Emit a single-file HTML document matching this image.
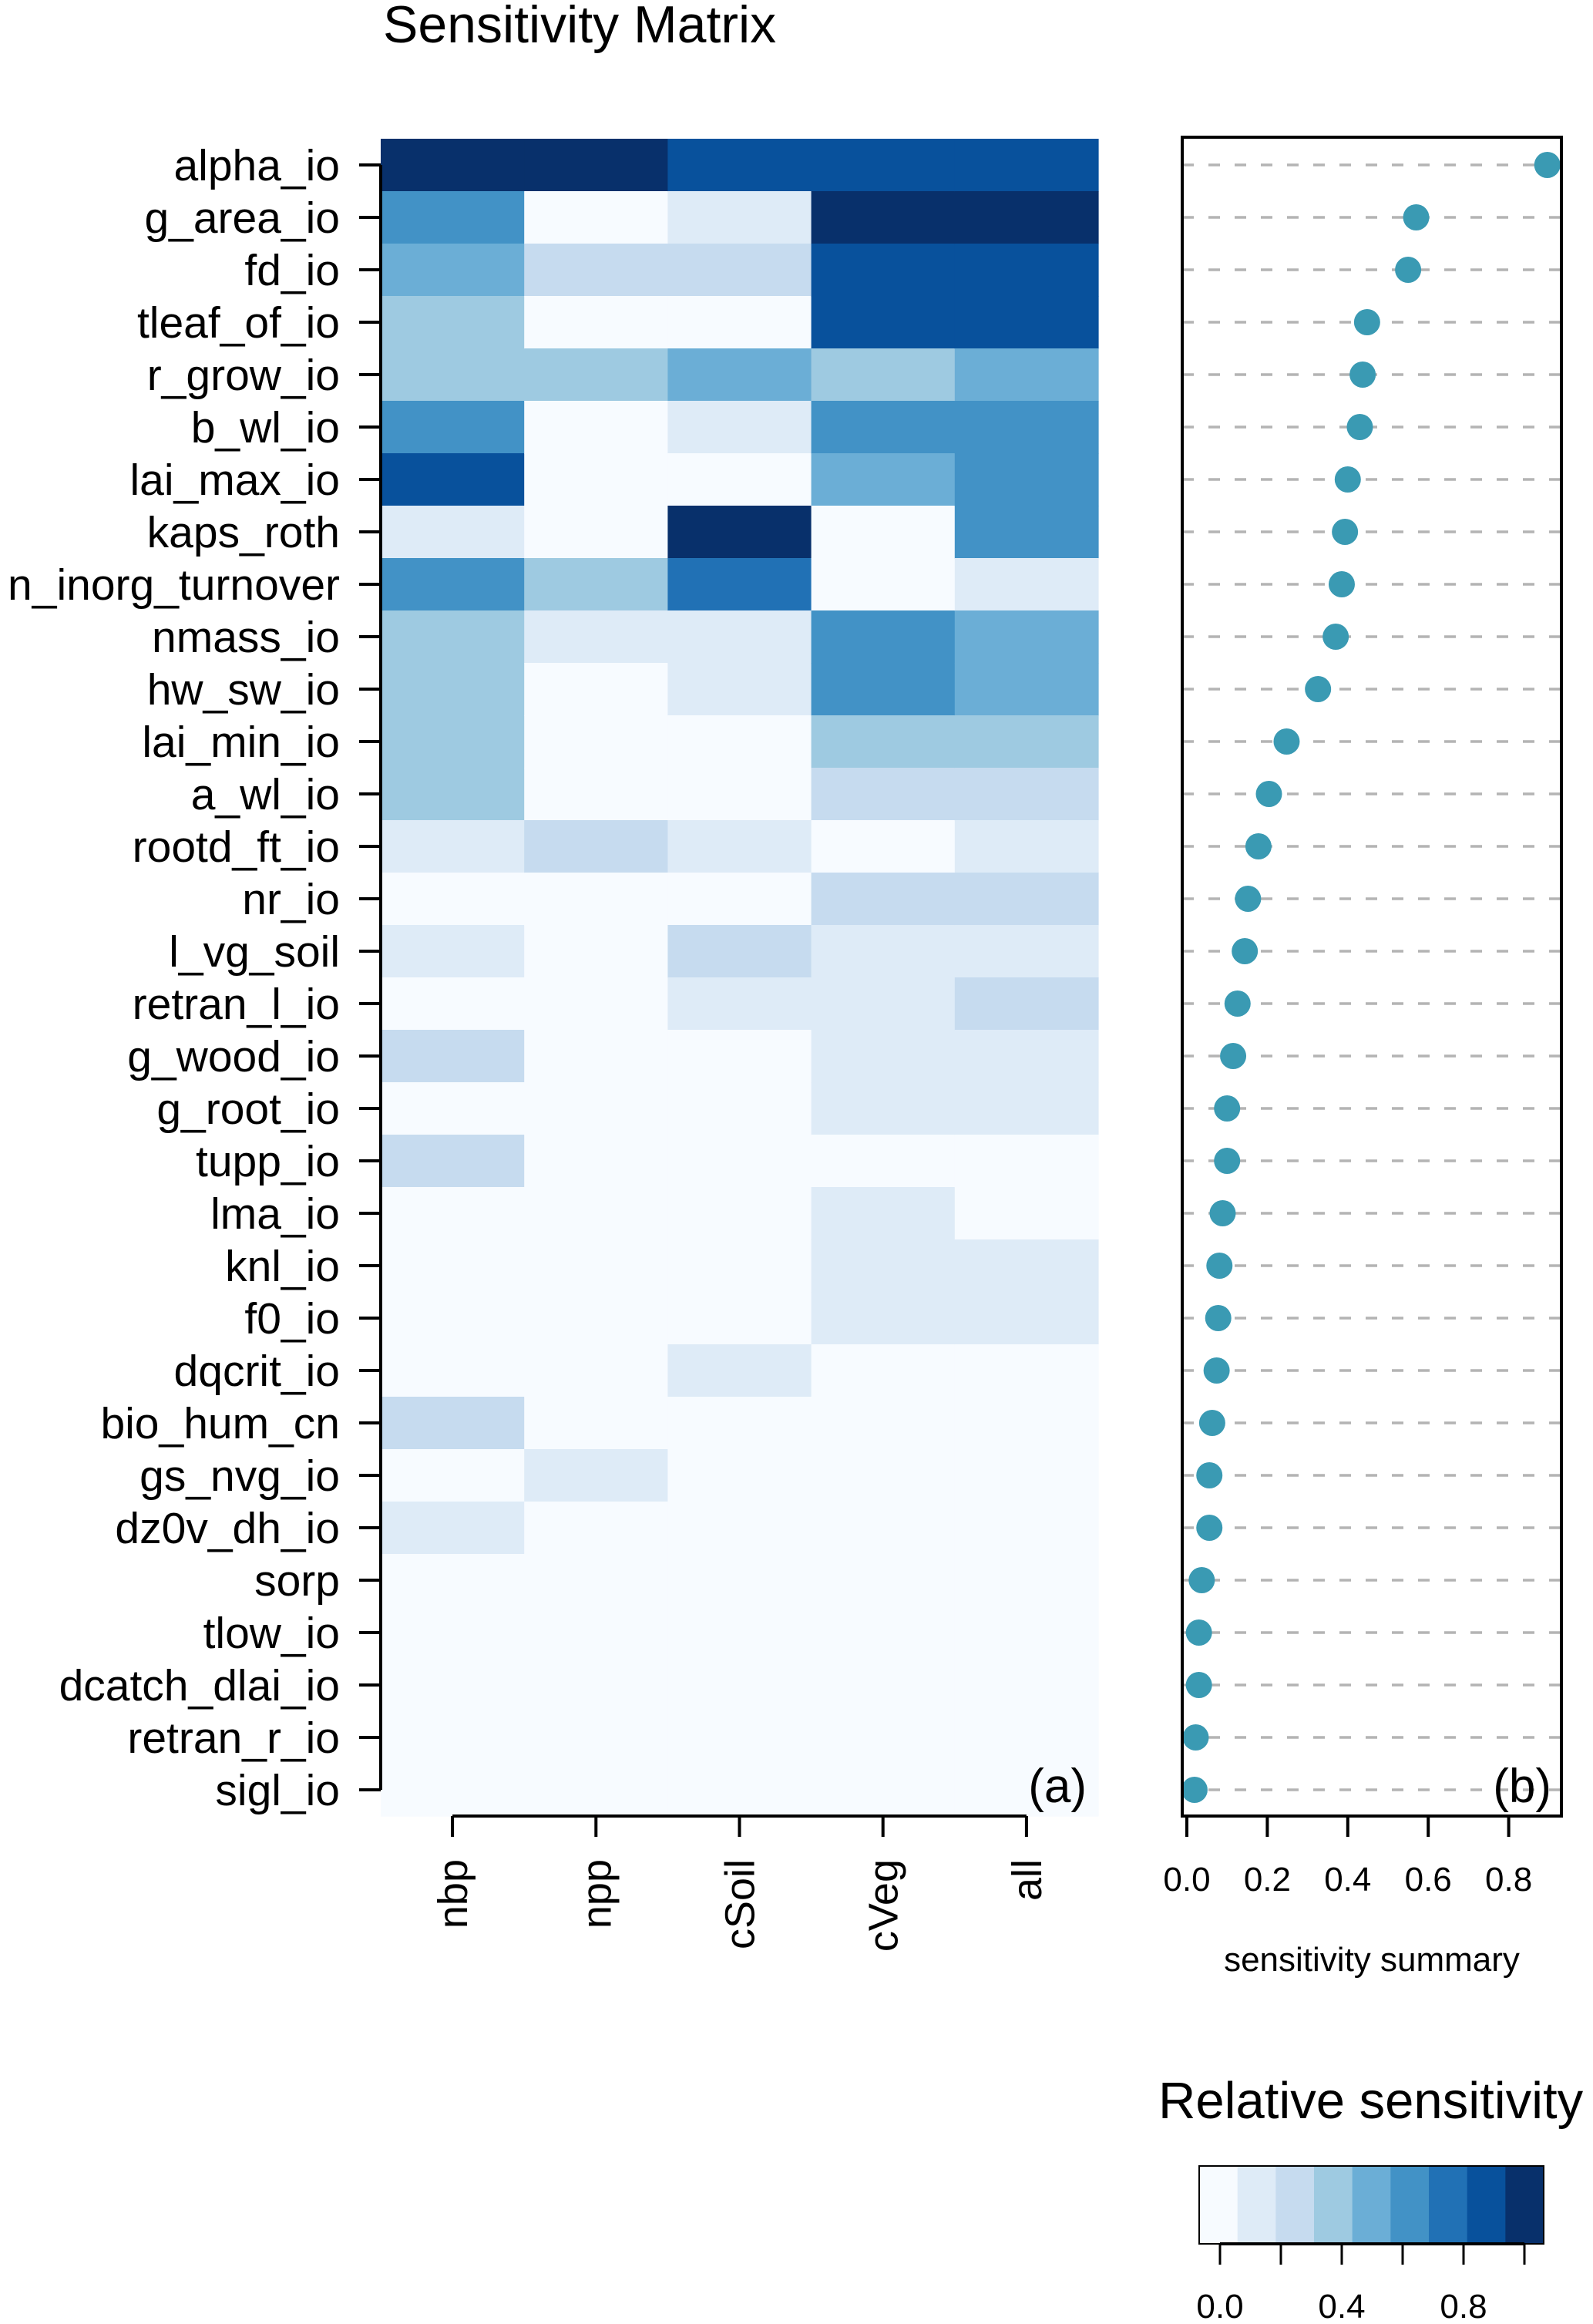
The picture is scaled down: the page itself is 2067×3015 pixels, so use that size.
<!DOCTYPE html>
<html><head><meta charset="utf-8"><style>
html,body{margin:0;padding:0;background:#fff;}
svg{display:block;font-family:"Liberation Sans",Arial,sans-serif;}
</style></head><body>
<svg id="chart" width="2067" height="3015" viewBox="0 0 2067 3015">
<text x="497" y="55" font-size="68">Sensitivity Matrix</text>
<g id="heat"></g>
<g id="dots"></g>
<g id="legend"></g>
</svg>
<script>
const params = ["alpha_io","g_area_io","fd_io","tleaf_of_io","r_grow_io","b_wl_io","lai_max_io","kaps_roth","n_inorg_turnover","nmass_io","hw_sw_io","lai_min_io","a_wl_io","rootd_ft_io","nr_io","l_vg_soil","retran_l_io","g_wood_io","g_root_io","tupp_io","lma_io","knl_io","f0_io","dqcrit_io","bio_hum_cn","gs_nvg_io","dz0v_dh_io","sorp","tlow_io","dcatch_dlai_io","retran_r_io","sigl_io"];
const outputs = ["nbp","npp","cSoil","cVeg","all"];
// sensitivity class (0-8) per parameter, columns nbp,npp,cSoil,cVeg,all
const nbpVals = [8,5,4,3,3,5,7,1,5,3,3,3,3,1,0,1,0,2,0,2,0,0,0,0,2,0,1,0,0,0,0,0];
const nppVals = [8,0,2,0,3,0,0,0,3,1,0,0,0,2,0,0,0,0,0,0,0,0,0,0,0,1,0,0,0,0,0,0];
const cSoilVals = [7,1,2,0,4,1,0,8,6,1,1,0,0,1,0,2,1,0,0,0,0,0,0,1,0,0,0,0,0,0,0,0];
const cVegVals = [7,8,7,7,3,5,4,0,0,5,5,3,2,0,2,1,1,1,1,0,1,1,1,0,0,0,0,0,0,0,0,0];
const allVals = [7,8,7,7,4,5,5,5,1,4,4,3,2,1,2,1,2,1,1,0,0,1,1,0,0,0,0,0,0,0,0,0];
const summary = [0.896,0.57,0.55,0.448,0.437,0.43,0.40,0.393,0.385,0.37,0.326,0.248,0.204,0.178,0.152,0.144,0.126,0.115,0.10,0.10,0.089,0.081,0.078,0.074,0.063,0.056,0.056,0.037,0.03,0.03,0.022,0.019];
const dotTicks = [0.0,0.2,0.4,0.6,0.8];
const legendTicks = [0.0,0.2,0.4,0.6,0.8,1.0];
const legendLabels = ["0.0","0.4","0.8"];
const palette = ["#F7FBFF","#DEEBF7","#C6DBEF","#9ECAE1","#6BAED6","#4292C6","#2171B5","#08519C","#08306B"];

const NS="http://www.w3.org/2000/svg";
function mk(tag, attrs, parent){const e=document.createElementNS(NS,tag);for(const k in attrs)e.setAttribute(k,attrs[k]);parent.appendChild(e);return e;}
const heat=document.getElementById('heat'), dots=document.getElementById('dots'), leg=document.getElementById('legend');
const top0=180, rowH=68, hx0=494, colW=186.2;
const rowY=i=>top0+rowH*i;
const rowC=i=>top0+rowH*(i+0.5);
const colX=j=>hx0+colW*j;
const cols=[nbpVals,nppVals,cSoilVals,cVegVals,allVals];
cols.forEach((vals,j)=>{vals.forEach((v,i)=>{
  const r=mk('rect',{x:colX(j),y:rowY(i),width:colW+0.6,height:rowH+0.6,fill:palette[Math.max(0,Math.min(8,v))]},heat);
  
  
});});
const ya=mk('line',{x1:hx0,x2:hx0,y1:rowC(0),y2:rowC(params.length-1),stroke:'#000','stroke-width':4},heat);


params.forEach((p,i)=>{
  mk('line',{x1:466,x2:hx0,y1:rowC(i),y2:rowC(i),stroke:'#000','stroke-width':4},heat);
  const t=mk('text',{x:441,y:rowC(i)+20,'font-size':57,'text-anchor':'end'},heat);
  t.textContent=p;
  
  
});
const xc=j=>colX(j)+colW/2;
const xa=mk('line',{x1:xc(0),x2:xc(4),y1:2356,y2:2356,stroke:'#000','stroke-width':4},heat);


outputs.forEach((o,j)=>{
  mk('line',{x1:xc(j),x2:xc(j),y1:2356,y2:2383,stroke:'#000','stroke-width':4},heat);
  const t=mk('text',{x:0,y:0,'font-size':54,'text-anchor':'end',transform:`translate(${xc(j)+19},2412) rotate(-90)`},heat);
  t.textContent=o;
  
  
});
const pa=mk('text',{x:1410,y:2338,'font-size':62,'text-anchor':'end'},heat);
pa.textContent='(a)';



const dx0=1540, dxs=522;
const sx=v=>dx0+v*dxs;
const bL=1534,bR=2026,bT=178,bB=2356;
params.forEach((p,i)=>{
  mk('line',{x1:bL,x2:bR,y1:rowC(i),y2:rowC(i),stroke:'#B4B4B4','stroke-width':3.5,'stroke-dasharray':'15,19'},dots);
});
summary.forEach((v,i)=>{
  const c=mk('circle',{cx:sx(v),cy:rowC(i),r:17,fill:'#3A9AB3'},dots);
  
  
});
const box=mk('rect',{x:bL,y:bT,width:bR-bL,height:bB-bT,fill:'none',stroke:'#000','stroke-width':4},dots);


dotTicks.forEach(v=>{
  mk('line',{x1:sx(v),x2:sx(v),y1:bB,y2:2383,stroke:'#000','stroke-width':4},dots);
  const t=mk('text',{x:sx(v),y:2453,'font-size':44,'text-anchor':'middle'},dots);
  t.textContent=v.toFixed(1);
  
  
});
const st=mk('text',{x:1780,y:2557,'font-size':44,'text-anchor':'middle'},dots);
st.textContent='sensitivity summary';


const pb=mk('text',{x:2013,y:2338,'font-size':62,'text-anchor':'end'},dots);
pb.textContent='(b)';



const lt=mk('text',{x:1503,y:2748,'font-size':67},leg);
lt.textContent='Relative sensitivity';


const lx0=1556,lx1=2003,ly0=2810,ly1=2911,sw=(lx1-lx0)/palette.length;
palette.forEach((c,k)=>{
  const r=mk('rect',{x:lx0+sw*k,y:ly0,width:sw+0.5,height:ly1-ly0,fill:c},leg);
  
  
});
mk('rect',{x:lx0,y:ly0,width:lx1-lx0,height:ly1-ly0,fill:'none',stroke:'#000','stroke-width':2},leg);
const lsx=v=>1583+v*395;
mk('line',{x1:lsx(0),x2:lsx(1),y1:ly1,y2:ly1,stroke:'#000','stroke-width':4},leg);
legendTicks.forEach(v=>{mk('line',{x1:lsx(v),x2:lsx(v),y1:ly1,y2:2938,stroke:'#000','stroke-width':3},leg);});
legendLabels.forEach(s=>{
  const t=mk('text',{x:lsx(parseFloat(s)),y:3007,'font-size':44,'text-anchor':'middle'},leg);
  t.textContent=s;
  
  
});
</script>
</body></html>
